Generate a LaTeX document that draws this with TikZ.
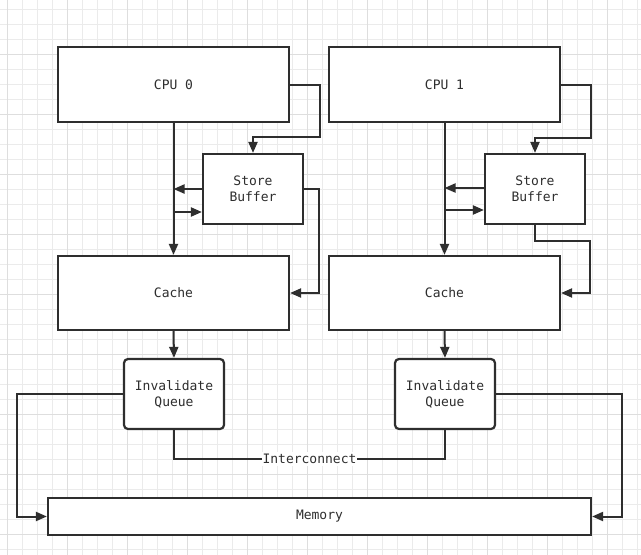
\documentclass[tikz,border=0pt]{standalone}
\usepackage{fontspec}
\setmonofont{DejaVu Sans Mono}
\usetikzlibrary{arrows.meta}
\definecolor{ink}{HTML}{2E2E2E}
\definecolor{gridminor}{HTML}{EBEBEB}
\definecolor{gridmajor}{HTML}{DEDEDE}
\tikzset{
  box/.style={draw=ink, line width=2.2pt, fill=white, text=ink, align=center,
    font=\ttfamily\fontsize{13}{16}\selectfont, inner sep=0pt},
  qbox/.style={box, rounded corners=4pt},
  link/.style={draw=ink, line width=2pt},
  arr/.style={link, -{Triangle[length=11pt,width=9pt]}},
  lbl/.style={fill=white, text=ink, font=\ttfamily\fontsize{13}{16}\selectfont, inner xsep=1pt, inner ysep=2pt}
}
\begin{document}
\begin{tikzpicture}[x=1pt,y=-1pt]
\useasboundingbox (0,0) rectangle (641,555);
\fill[white] (0,0) rectangle (641,555);
% grid
\foreach \i in {0,...,42} {
  \draw[gridminor, line width=1pt] (7.7+15*\i,0) -- (7.7+15*\i,555);
}
\foreach \i in {0,...,37} {
  \draw[gridminor, line width=1pt] (0,9.3+15*\i) -- (641,9.3+15*\i);
}
\foreach \i in {0,...,10} {
  \draw[gridmajor, line width=1pt] (7.7+60*\i,0) -- (7.7+60*\i,555);
}
\foreach \i in {1,...,9} {
  \draw[gridmajor, line width=1pt] (0,-5.7+60*\i) -- (641,-5.7+60*\i);
}
% boxes
\node[box, minimum width=231pt, minimum height=75pt] (cpu0) at (173.5,84.5) {CPU 0};
\node[box, minimum width=231pt, minimum height=75pt] (cpu1) at (444.5,84.5) {CPU 1};
\node[box, minimum width=100pt, minimum height=70pt] (sb0) at (253,189) {Store\\Buffer};
\node[box, minimum width=100pt, minimum height=70pt] (sb1) at (535,189) {Store\\Buffer};
\node[box, minimum width=231pt, minimum height=74pt] (cache0) at (173.5,293) {Cache};
\node[box, minimum width=231pt, minimum height=74pt] (cache1) at (444.5,293) {Cache};
\node[qbox, minimum width=100pt, minimum height=70pt] (iq0) at (174,394) {Invalidate\\Queue};
\node[qbox, minimum width=100pt, minimum height=70pt] (iq1) at (445,394) {Invalidate\\Queue};
\node[box, minimum width=543pt, minimum height=37pt] (mem) at (319.5,516.5) {Memory};
% CPU 0 side
\draw[arr] (cpu0.east) -- ++(30,0) -- ++(0,52) -| (sb0.north);
\draw[arr] (cpu0.south) -- (cache0.north);
\draw[arr] (sb0.west) -- (sb0.west -| cpu0.south);
\coordinate (in0) at ([yshift=-23pt]sb0.west);
\draw[arr] (in0 -| cpu0.south) -- (in0);
\draw[arr] (sb0.east) -- ++(15,0) |- (cache0.east);
\draw[arr] (cache0.south) -- (iq0.north);
% CPU 1 side
\draw[arr] (cpu1.east) -- ++(30,0) -- ++(0,53) -| (sb1.north);
\draw[arr] (cpu1.south) -- (cache1.north);
\coordinate (out1) at ([yshift=1pt]sb1.west);
\draw[arr] (out1) -- (out1 -| cpu1.south);
\coordinate (in1) at ([yshift=-21pt]sb1.west);
\draw[arr] (in1 -| cpu1.south) -- (in1);
\draw[arr] (sb1.south) -- ++(0,16) -- ++(55,0) |- (cache1.east);
\draw[arr] (cache1.south) -- (iq1.north);
% memory links
\draw[arr] (iq0.west) -- ++(-106,0) |- (mem.west);
\draw[arr] (iq1.east) -- ++(126,0) |- (mem.east);
% interconnect
\draw[link] (iq0.south) -- ++(0,29) -| (iq1.south)
  node[lbl, pos=0.25] (ic) {Interconnect};
\end{tikzpicture}
\end{document}
